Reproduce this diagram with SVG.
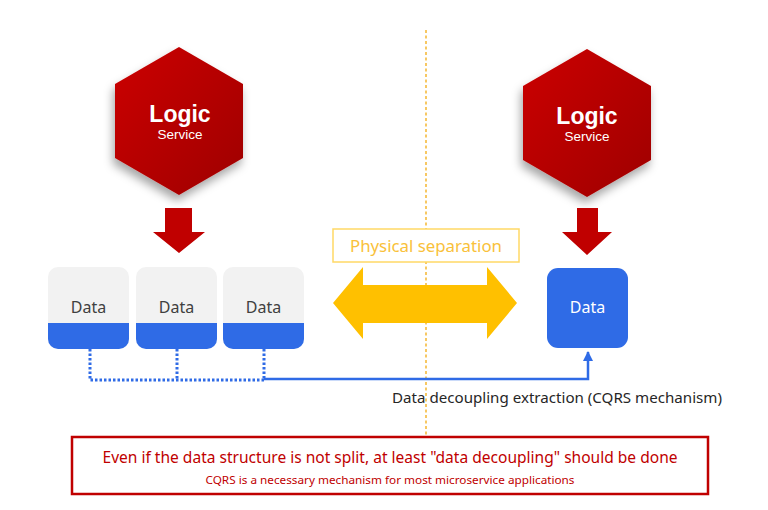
<svg xmlns="http://www.w3.org/2000/svg" width="768" height="510" viewBox="0 0 768 510">
  <style>
    .hex { fill: url(#hexGrad); filter: url(#shadow); }
    .logic { font-family: "Liberation Sans", Arial, sans-serif; font-weight: bold; font-size: 23px; fill: #ffffff; text-anchor: middle; }
    .svc { font-family: "Liberation Sans", Arial, sans-serif; font-size: 13.5px; fill: #ffffff; text-anchor: middle; }
    .redArrow { fill: #c00000; }
    .boxTop { fill: #f2f2f2; }
    .boxBand { fill: #2f6be6; }
    .dataTxt { font-family: "Noto Sans", "Open Sans", sans-serif; font-size: 16px; fill: #404040; text-anchor: middle; }
    .dataTxtW { font-family: "Noto Sans", "Open Sans", sans-serif; font-size: 16px; fill: #ffffff; text-anchor: middle; }
    .dotted { fill: none; stroke: #2f6be6; stroke-width: 3; stroke-dasharray: 2.5 2; }
    .solid { fill: none; stroke: #2f6be6; stroke-width: 2.5; }
    .sep { fill: none; stroke: #f5b731; stroke-width: 1.5; stroke-dasharray: 3 2.5; }
    .label { font-family: "Noto Sans", "Open Sans", sans-serif; }
  </style>
  <defs>
    <linearGradient id="hexGrad" x1="0" y1="0" x2="1" y2="1">
      <stop offset="0" stop-color="#cc0000"/>
      <stop offset="1" stop-color="#9e0000"/>
    </linearGradient>
    <filter id="shadow" x="-30%" y="-30%" width="160%" height="160%">
      <feDropShadow dx="-2" dy="6" stdDeviation="5" flood-color="#000000" flood-opacity="0.35"/>
    </filter>
    <marker id="arrowBlue" viewBox="0 0 10 10" refX="9" refY="5" markerWidth="4" markerHeight="4" orient="auto" markerUnits="strokeWidth">
      <path d="M0,0 L10,5 L0,10 Z" fill="#2f6be6"/>
    </marker>
  </defs>

  <rect width="768" height="510" fill="#ffffff"/>

  <!-- separation line -->
  <line class="sep" x1="426" y1="30" x2="426" y2="437"/>

  <!-- Left logic service -->
  <g id="logic-left">
    <polygon class="hex" points="179,47 243,84 243,158 179,195 115,158 115,84"/>
    <text class="logic" x="180" y="122">Logic</text>
    <text class="svc" x="180" y="139">Service</text>
  </g>

  <!-- Right logic service -->
  <g id="logic-right">
    <polygon class="hex" points="587,49 651,86 651,160 587,197 523,160 523,86"/>
    <text class="logic" x="587" y="124">Logic</text>
    <text class="svc" x="587" y="141">Service</text>
  </g>

  <!-- Red arrows -->
  <g id="arrow-left">
    <polygon class="redArrow" points="165,208 192,208 192,232 205,232 179,253 153,232 165,232"/>
  </g>
  <g id="arrow-right">
    <polygon class="redArrow" points="577,208 598,208 598,232 612,232 587,255 562,232 577,232"/>
  </g>

  <!-- Data boxes -->
  <g id="data-1">
    <rect class="boxTop" x="48" y="267" width="81" height="82" rx="10"/>
    <path class="boxBand" d="M48,323 H129 V339 A10,10 0 0 1 119,349 H58 A10,10 0 0 1 48,339 Z"/>
    <text class="dataTxt" x="88.5" y="313">Data</text>
  </g>
  <g id="data-2">
    <rect class="boxTop" x="136" y="267" width="81" height="82" rx="10"/>
    <path class="boxBand" d="M136,323 H217 V339 A10,10 0 0 1 207,349 H146 A10,10 0 0 1 136,339 Z"/>
    <text class="dataTxt" x="176.5" y="313">Data</text>
  </g>
  <g id="data-3">
    <rect class="boxTop" x="223" y="267" width="81" height="82" rx="10"/>
    <path class="boxBand" d="M223,323 H304 V339 A10,10 0 0 1 294,349 H233 A10,10 0 0 1 223,339 Z"/>
    <text class="dataTxt" x="263.5" y="313">Data</text>
  </g>
  <g id="data-right">
    <rect class="boxBand" x="547" y="268" width="81" height="80" rx="11"/>
    <text class="dataTxtW" x="587.5" y="313">Data</text>
  </g>

  <!-- Physical separation -->
  <g id="physical-separation">
    <rect x="333" y="229" width="186" height="33" fill="#ffffff" stroke="#ffd966" stroke-width="1.5"/>
    <text class="label" x="426" y="252" font-size="16" fill="#f9c13a" text-anchor="middle" textLength="152" lengthAdjust="spacingAndGlyphs">Physical separation</text>
    <polygon fill="#ffc000" points="333,303 363,267 363,285 487,285 487,267 517,303 487,339 487,323 363,323 363,339"/>
  </g>

  <!-- Connectors -->
  <g id="connectors">
    <path class="dotted" d="M90,349 V380 H264"/>
    <path class="dotted" d="M177,349 V380"/>
    <path class="dotted" d="M264,349 V380"/>
    <path class="solid" d="M264,379 H588 V352" marker-end="url(#arrowBlue)"/>
  </g>

  <text class="label" x="557" y="403" font-size="15" fill="#262626" text-anchor="middle" textLength="330" lengthAdjust="spacingAndGlyphs">Data decoupling extraction (CQRS mechanism)</text>

  <!-- Bottom note -->
  <g id="note">
    <rect x="72" y="437" width="636" height="57" fill="#ffffff" stroke="#c00000" stroke-width="2.5"/>
    <text class="label" x="390" y="463" font-size="16" fill="#c00000" text-anchor="middle" textLength="575" lengthAdjust="spacingAndGlyphs">Even if the data structure is not split, at least "data decoupling" should be done</text>
    <text class="label" x="390" y="484" font-size="11" fill="#c00000" text-anchor="middle" textLength="369" lengthAdjust="spacingAndGlyphs">CQRS is a necessary mechanism for most microservice applications</text>
  </g>
</svg>
